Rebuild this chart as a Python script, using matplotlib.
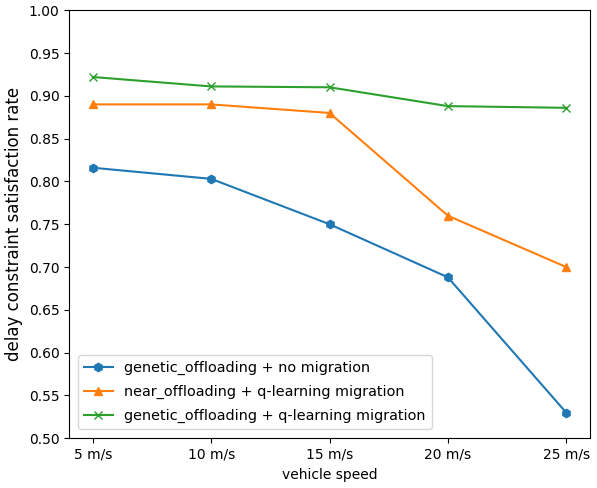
import matplotlib
matplotlib.use('Agg')
import matplotlib.pyplot as plt
from matplotlib.ticker import MultipleLocator, FormatStrFormatter

# 数据
speeds = ['5 m/s', '10 m/s', '15 m/s', '20 m/s', '25 m/s']
genetic_no_mig = [0.816, 0.803, 0.750, 0.688, 0.530]
near_q_mig = [0.890, 0.890, 0.880, 0.760, 0.700]
genetic_q_mig = [0.922, 0.911, 0.910, 0.888, 0.886]

fig, ax = plt.subplots(figsize=(5.97, 4.88), dpi=100)
fig.subplots_adjust(left=0.116, right=0.988, top=0.979, bottom=0.102)

ax.plot(speeds, genetic_no_mig, marker='h', label='genetic_offloading + no migration')
ax.plot(speeds, near_q_mig, marker='^', label='near_offloading + q-learning migration')
ax.plot(speeds, genetic_q_mig, marker='x', label='genetic_offloading + q-learning migration')

ax.set_ylim(0.5, 1.0)
ax.yaxis.set_major_locator(MultipleLocator(0.05))
ax.yaxis.set_major_formatter(FormatStrFormatter('%.2f'))
ax.set_xlabel('vehicle speed')
ax.set_ylabel('delay constraint satisfaction rate', fontsize=12)
ax.legend(loc='lower left', fontsize=10.4, labelspacing=0.7, borderaxespad=0.62)

plt.savefig('out.png', dpi=100)
